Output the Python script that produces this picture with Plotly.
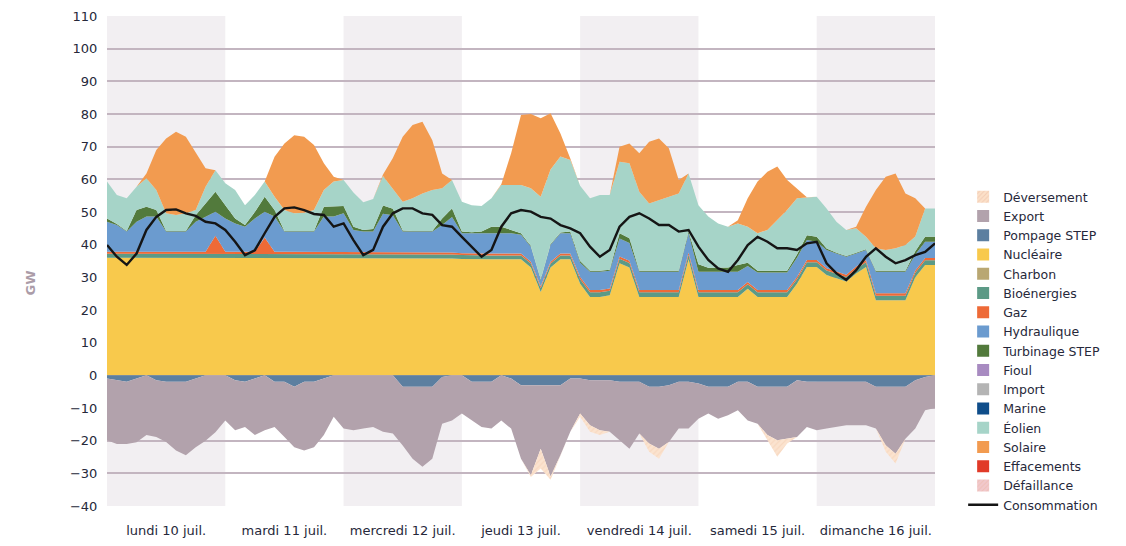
import plotly.graph_objects as go

# Palette
C_NUC = '#f8c94c'
C_BIO = '#5c9a86'
C_GAZ = '#ee6a37'
C_HYD = '#6b9bcf'
C_STEP = '#527a3c'
C_EOL = '#a6d4c8'
C_SOL = '#f29b50'
C_EXP = '#b2a2ac'
C_POMP = '#5c7fa0'
C_DEV = '#fbe3cf'
C_GRID = '#c3b5c0'
C_BAND = '#f2eff2'
C_TEXT = '#26283a'
FONT = 'DejaVu Sans, Verdana, sans-serif'

# time axis: hours since lundi 10 juil. 00h, 2-hour steps
hours = list(range(0, 169, 2))
day_ticks = [12, 36, 60, 84, 108, 132, 156]
day_labels = ['lundi 10 juil.', 'mardi 11 juil.', 'mercredi 12 juil.', 'jeudi 13 juil.',
              'vendredi 14 juil.', 'samedi 15 juil.', 'dimanche 16 juil.']
shaded_days = [(0, 24), (48, 72), (96, 120), (144, 168)]

# GW, one line per day (12 values) + last point
nucleaire = [
    36, 36, 36, 36, 36, 36, 36, 36, 36, 36, 36, 36,
    36, 36, 36, 36, 36, 36, 36, 36, 36, 36, 36, 36,
    36, 35.8, 35.8, 35.8, 35.8, 35.8, 35.8, 35.8, 35.8, 35.8, 35.8, 35.8,
    35.6, 35.5, 35.5, 35.5, 35.5, 35.5, 35.5, 33, 25.5, 33, 35.5, 35.5,
    28, 24, 24, 24.5, 34.3, 33, 24, 24, 24, 24, 24, 35.5,
    24, 24, 24, 24, 24, 26.5, 24, 24, 24, 24, 28, 33.2,
    33.2, 30.7, 29.7, 28.7, 31.2, 33.2, 23, 23, 23, 23, 30, 33.8,
    33.8]
bioenergies = [
    1.2, 1.2, 1.2, 1.2, 1.2, 1.2, 1.2, 1.2, 1.2, 1.2, 1.2, 1.2,
    1.2, 1.2, 1.2, 1.2, 1.2, 1.2, 1.2, 1.2, 1.2, 1.2, 1.2, 1.2,
    1.2, 1.2, 1.2, 1.2, 1.2, 1.2, 1.2, 1.2, 1.2, 1.2, 1.2, 1.2,
    1.2, 1.2, 1.2, 1.2, 1.2, 1.2, 1.2, 1.2, 1.2, 1.2, 1.2, 1.2,
    1.4, 1.4, 1.4, 1.4, 1.4, 1.4, 1.4, 1.4, 1.4, 1.4, 1.4, 1.4,
    1.4, 1.4, 1.4, 1.4, 1.4, 1.4, 1.4, 1.4, 1.4, 1.4, 1.4, 1.4,
    1.4, 1.4, 1.4, 1.4, 1.4, 1.4, 1.4, 1.4, 1.4, 1.4, 1.4, 1.4,
    1.4]
gaz = [
    0.6, 0.6, 0.6, 0.6, 0.6, 0.6, 0.6, 0.6, 0.6, 0.6, 0.6, 5.5,
    0.6, 0.6, 0.6, 0.6, 5.0, 0.6, 0.6, 0.6, 0.6, 0.6, 0.6, 0.6,
    0.6, 0.6, 0.6, 0.6, 0.6, 0.6, 0.6, 0.6, 0.6, 0.6, 0.6, 0.6,
    0.6, 0.6, 0.6, 0.6, 0.6, 0.6, 0.6, 0.6, 0.6, 0.6, 0.6, 0.6,
    0.7, 0.7, 0.7, 0.7, 0.7, 0.7, 0.7, 0.7, 0.7, 0.7, 0.7, 0.7,
    0.7, 0.7, 0.7, 0.7, 0.7, 0.7, 0.7, 0.7, 0.7, 0.7, 0.7, 0.7,
    0.7, 0.7, 0.7, 0.7, 0.7, 0.7, 0.7, 0.7, 0.7, 0.7, 0.7, 0.7,
    0.7]
hydraulique = [
    9.2, 8.2, 6.2, 9.2, 10.8, 10.8, 6.2, 6.2, 6.2, 9.2, 10.8, 7.4,
    10.2, 8.7, 7.7, 10.2, 7.9, 10.8, 6.2, 6.2, 6.2, 6.2, 10.8, 10.8,
    11.8, 6.9, 6.4, 6.4, 11.9, 11.4, 6.4, 6.4, 6.4, 6.4, 8.4, 10.9,
    6.1, 6.2, 6.2, 6.2, 6.2, 6.2, 5.7, 4.6, 1.9, 5.2, 6.2, 6.2,
    4.4, 5.6, 5.6, 5.4, 5.5, 5.4, 5.6, 5.6, 5.6, 5.6, 5.6, 5.9,
    5.6, 5.6, 5.6, 5.6, 5.6, 4.9, 5.4, 5.4, 5.4, 5.4, 5.9, 6.1,
    5.6, 5.6, 5.5, 5.5, 4.0, 3.1, 6.6, 6.6, 6.6, 6.6, 4.9, 5.0,
    5.0]
turbinage_step = [
    1.0, 0.3, 0.2, 3.6, 3.0, 2.0, 0.2, 0.2, 0.2, 2.0, 4.0, 6.1,
    4.1, 1.5, 0.5, 2.0, 4.6, 2.0, 0.2, 0.2, 0.2, 0.2, 3.0, 3.0,
    2.2, 1.0, 0.5, 0.8, 2.5, 2.0, 0.3, 0.2, 0.2, 0.2, 2.0, 2.6,
    0.5, 0.3, 0.5, 2.0, 2.0, 1.0, 0.5, 0.2, 0.2, 0.2, 0.2, 0.5,
    0.5, 0.3, 0.3, 0.3, 1.6, 1.5, 0.3, 0.3, 0.3, 0.3, 0.3, 0.5,
    2.3, 1.2, 1.3, 1.3, 2.1, 1.0, 0.5, 0.5, 0.5, 0.5, 1.0, 1.5,
    1.5, 0.4, 0.2, 0.2, 0.2, 0.2, 0.3, 0.3, 0.3, 0.3, 1.0, 1.5,
    1.5]
eolien = [
    11.3, 8.9, 10.0, 7.1, 8.7, 6.1, 5.4, 4.9, 5.4, 1.6, 5.1, 6.6,
    6.7, 8.7, 6.1, 5.2, 4.6, 4.1, 6.4, 5.4, 5.6, 6.4, 5.1, 7.7,
    8.0, 10.5, 8.5, 9.2, 9.0, 6.0, 8.8, 10.0, 11.5, 12.5, 9.3, 8.7,
    9.1, 8.3, 7.8, 8.7, 12.8, 13.8, 14.8, 17.7, 25.3, 22.8, 23.3, 21.9,
    23.0, 22.2, 23.2, 22.9, 21.9, 22.9, 24.2, 20.6, 21.6, 22.7, 23.7, 17.8,
    18.1, 15.7, 13.5, 12.5, 12.7, 11.0, 11.5, 12.5, 15.5, 18.6, 17.2, 11.6,
    12.3, 12.3, 9.5, 8.0, 7.5, 3.8, 6.9, 6.4, 6.9, 7.9, 4.5, 8.7,
    8.7]
solaire = [
    0, 0, 0, 0, 1.5, 12.3, 22.9, 25.5, 23.4, 17.4, 5.7, 0,
    0, 0, 0, 0, 0, 12.2, 20.4, 23.9, 23.2, 19.9, 8.2, 1.5,
    0, 0, 0, 0, 0.5, 9.5, 19.9, 22.4, 21.9, 15.3, 4.5, 0,
    0, 0, 0, 0, 0.2, 9.7, 21.4, 22.7, 24.0, 17.2, 7.0, 0.5,
    0, 0, 0, 0, 4.6, 6.1, 11.8, 18.9, 18.9, 14.8, 4.1, 0,
    0, 0, 0, 0, 1.0, 8.7, 15.8, 17.8, 16.4, 9.2, 3.0, 0,
    0, 0, 0, 0, 0.5, 9.2, 17.8, 22.4, 22.9, 15.8, 11.7, 0,
    0]
pompage_step = [
    -1, -1.5, -2, -1, 0, -1.5, -2, -2, -2, -1, 0, 0,
    0, -1.5, -2, -1, 0, -2, -2, -3.5, -2, -2, -1, 0,
    0, 0, 0, 0, 0, 0, -3.5, -3.5, -3.5, -3.5, -0.5, 0,
    0, -2, -2, -2, 0, -1, -3, -3, -3, -3, -3, -1,
    -1, -1.5, -1.5, -1.5, -2, -2, -2, -3.5, -3.5, -3, -2, -2,
    -2.5, -3.5, -3.5, -3.5, -2, -2, -3.5, -3.5, -3.5, -3.5, -1.5, -2,
    -2, -2, -2, -2, -2, -2, -3.5, -3.5, -3.5, -3.5, -1.5, -0.5,
    0]
export = [
    -18.9, -19.5, -19, -19.5, -18.3, -17.4, -18.4, -21, -22.5, -21, -20, -17.4,
    -13.8, -15.3, -13.8, -17.3, -16.8, -13.8, -16.9, -18.5, -21, -20, -17.3, -12.7,
    -16.3, -16.8, -16.3, -15.8, -17.3, -17.8, -18, -22, -24.5, -22, -14.3, -13.8,
    -11.7, -11.8, -13.8, -14.3, -13.8, -15.3, -22.5, -27.6, -19.5, -28, -21.5, -16.3,
    -10.7, -13.8, -15.3, -15.8, -17.9, -20.5, -15.8, -17.4, -19, -17.4, -14.3, -14.3,
    -10.8, -8.2, -9.8, -8.7, -8.7, -11.8, -11.3, -14.8, -16.4, -15.9, -17.4, -13.8,
    -14.8, -14.3, -13.8, -13.3, -13.3, -13.3, -12.8, -17.9, -20.5, -15.9, -14.8, -10.2,
    -10]
deversement = [
    0, 0, 0, 0, 0, 0, 0, 0, 0, 0, 0, 0,
    0, 0, 0, 0, 0, 0, 0, 0, 0, 0, 0, 0,
    0, 0, 0, 0, 0, 0, 0, 0, 0, 0, 0, 0,
    0, 0, 0, 0, 0, 0, 0, -0.5, -6, -1, 0, 0,
    -1, -2, -1.5, 0, 0, 0, 0, -2.5, -3, 0, 0, 0,
    0, 0, 0, 0, 0, 0, 0, -1.5, -5, -1.5, 0, 0,
    0, 0, 0, 0, 0, 0, 0, -2, -3, 0, 0, 0,
    0]
consommation = [
    39.9, 36.3, 33.8, 37.3, 44.5, 48.5, 50.6, 50.8, 49.6, 48.8, 47, 46.5,
    44.5, 40.9, 36.8, 38.3, 43.5, 48.5, 51.1, 51.4, 50.6, 49.4, 49.1, 45.5,
    46.5, 41.4, 36.8, 38.4, 45.5, 49.6, 51.1, 51.1, 49.6, 49.1, 46, 45.5,
    42.4, 39.4, 36.3, 38.4, 45.5, 49.6, 50.6, 50.1, 48.5, 48, 46, 45,
    43.5, 39.4, 36.3, 38.4, 45.5, 48.5, 49.6, 48, 46, 46, 44, 44.5,
    39.4, 35.3, 32.7, 31.7, 35.3, 39.9, 42.4, 40.9, 38.9, 38.9, 38.4, 40.4,
    40.9, 34.3, 31.2, 29.2, 32.2, 36.3, 38.9, 36.3, 34.3, 35.3, 36.8, 37.8,
    40.4]

# legend entries (name, colour, hatch)
legend_items = [
    ('Déversement', '#fbe0c8', '/'),
    ('Export', C_EXP, ''),
    ('Pompage STEP', C_POMP, ''),
    ('Nucléaire', C_NUC, ''),
    ('Charbon', '#b9a772', ''),
    ('Bioénergies', C_BIO, ''),
    ('Gaz', C_GAZ, ''),
    ('Hydraulique', C_HYD, ''),
    ('Turbinage STEP', C_STEP, ''),
    ('Fioul', '#a88bc1', ''),
    ('Import', '#b4b4b4', ''),
    ('Marine', '#0f4d8a', ''),
    ('Éolien', C_EOL, ''),
    ('Solaire', C_SOL, ''),
    ('Effacements', '#e13a28', ''),
    ('Défaillance', '#f1c8cc', '/'),
]

fig = go.Figure()

for name, color, hatch in legend_items:
    fig.add_trace(go.Bar(
        x=[None], y=[None], name=name,
        marker=dict(color=color, line=dict(width=0),
                    pattern=dict(shape=hatch, fgcolor='#eab7a0' if hatch else None,
                                 size=4, solidity=0.3)),
        showlegend=True))

positive = [
    ('Nucléaire', nucleaire, C_NUC),
    ('Bioénergies', bioenergies, C_BIO),
    ('Gaz', gaz, C_GAZ),
    ('Hydraulique', hydraulique, C_HYD),
    ('Turbinage STEP', turbinage_step, C_STEP),
    ('Éolien', eolien, C_EOL),
    ('Solaire', solaire, C_SOL),
]
for name, vals, color in positive:
    fig.add_trace(go.Scatter(
        x=hours, y=vals, name=name, stackgroup='pos', mode='lines',
        line=dict(width=0, color=color), fillcolor=color, showlegend=False))

negative = [
    ('Pompage STEP', pompage_step, C_POMP),
    ('Export', export, C_EXP),
]
for name, vals, color in negative:
    fig.add_trace(go.Scatter(
        x=hours, y=vals, name=name, stackgroup='neg', mode='lines',
        line=dict(width=0, color=color), fillcolor=color, showlegend=False))

fig.add_trace(go.Scatter(
    x=hours, y=deversement, name='Déversement', stackgroup='neg', mode='lines',
    line=dict(width=0, color=C_DEV), fillcolor=C_DEV,
    fillpattern=dict(shape='/', fgcolor='#f3cdb2', bgcolor=C_DEV, size=4, solidity=0.3),
    showlegend=False))

fig.add_trace(go.Scatter(
    x=hours, y=consommation, name='Consommation', mode='lines',
    line=dict(color='#151515', width=2.4), showlegend=True))

shapes = [dict(type='rect', xref='x', yref='paper', x0=a, x1=b, y0=0, y1=1,
               fillcolor=C_BAND, line=dict(width=0), layer='below')
          for a, b in shaded_days]

fig.update_layout(
    width=1126, height=546,
    paper_bgcolor='white', plot_bgcolor='white',
    font=dict(family=FONT, size=13, color=C_TEXT),
    margin=dict(l=107, r=191, t=16, b=40, autoexpand=False),
    shapes=shapes,
    showlegend=True,
    legend=dict(x=1.034, y=0.661, xanchor='left', yanchor='top',
                traceorder='normal',
                font=dict(family=FONT, size=12.5, color=C_TEXT), itemclick=False,
                bgcolor='rgba(0,0,0,0)', tracegroupgap=0),
    xaxis=dict(type='linear', range=[0, 168], showgrid=False, zeroline=False,
               automargin=False,
               tickvals=day_ticks, ticktext=day_labels, ticks='outside',
               ticklen=12, tickcolor='rgba(0,0,0,0)', showline=False,
               tickfont=dict(family=FONT, size=13, color=C_TEXT)),
    yaxis=dict(range=[-40, 110], dtick=10, tick0=0, showgrid=True,
               automargin=False,
               gridcolor=C_GRID, gridwidth=1.5, zeroline=False,
               tickfont=dict(family=FONT, size=13, color=C_TEXT), ticks='outside',
               ticklen=6, tickcolor='rgba(0,0,0,0)'),
    annotations=[dict(text='<b>GW</b>', x=(20 - 107) / 828, y=(506 - 283) / 490,
                      xref='paper', yref='paper', showarrow=False, textangle=-90,
                      font=dict(family=FONT, size=13, color='#ab9ca8'))],
)

fig.write_html("out.html", config={'displayModeBar': False},
               post_script="document.body.style.margin='0';")
